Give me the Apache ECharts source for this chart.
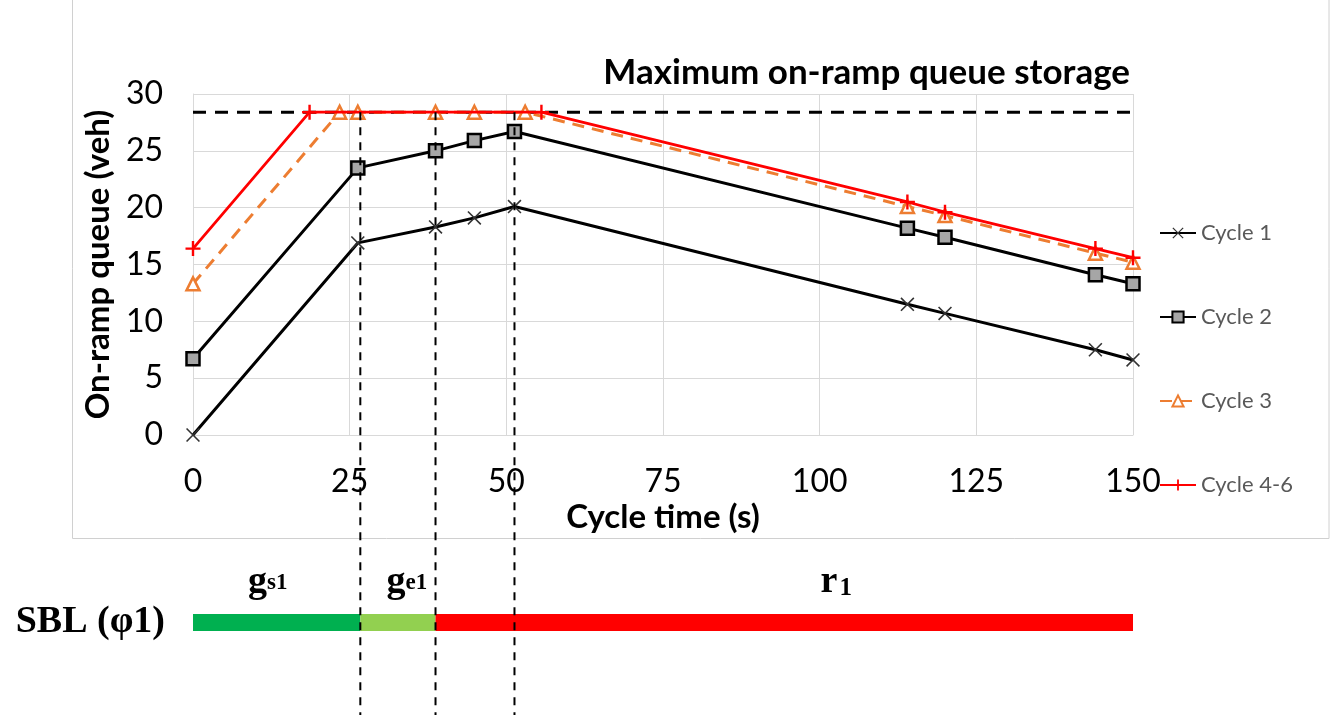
<!DOCTYPE html>
<html>
<head>
<meta charset="utf-8">
<script src="https://cdn.jsdelivr.net/npm/echarts@6/dist/echarts.min.js"></script>
<style>
  html, body { margin: 0; padding: 0; background: #fff; }
  #main { width: 1340px; height: 721px; }
</style>
</head>
<body>
<div id="main"></div>
<script>
// queue data
var cycleX = [0, 26.3, 38.7, 44.9, 51.3, 114, 120, 144, 150];
var cycle1 = [0, 16.9, 18.3, 19.1, 20.1, 11.5, 10.7, 7.5, 6.6];
var cycle2 = [6.7, 23.5, 25.0, 25.9, 26.7, 18.2, 17.4, 14.1, 13.3];
var cycle3X = [0, 23.4, 26.3, 38.7, 44.9, 53.0, 114, 120, 144, 150];
var cycle3 = [13.3, 28.4, 28.4, 28.4, 28.4, 28.4, 20.1, 19.3, 16.0, 15.2];
var cycle46X = [0, 18.6, 55.6, 114, 120, 144, 150];
var cycle46 = [16.4, 28.4, 28.4, 20.5, 19.6, 16.4, 15.6];
var maxStorage = 28.4;
var phaseMarks = [26.7, 38.7, 51.3];
var phaseDur = [26.7, 12.0, 111.3];
var phaseColors = ["#00b050", "#92d050", "#ff0000"];
var phaseLabels = ["{g|g}{s|s1}", "{g|g}{s|e1}", "{g|r}{r|1}"];

function pairs(xs, ys) {
  return xs.map(function(x, i) { return [x, ys[i]]; });
}

var font = "Lato";
var serif = "Liberation Serif";
var crossPath = "path://M0,0.8L0.8,0L10,9.2L9.2,10Z M9.2,0L10,0.8L0.8,10L0,9.2Z";
var plusPath = "path://M4.2,0H5.8V10H4.2Z M0,4.2H10V5.8H0Z";

var chart = echarts.init(document.getElementById("main"));

var series = [
  {
    name: "max",
    type: "line",
    data: [[0, maxStorage], [150, maxStorage]],
    showSymbol: false,
    lineStyle: { color: "#000", width: 3, type: [13, 9] },
    silent: true,
    z: 1
  },
  {
    name: "Cycle 1",
    type: "line",
    data: pairs(cycleX, cycle1),
    symbol: crossPath,
    symbolSize: 14,
    lineStyle: { color: "#000", width: 3 },
    itemStyle: { color: "#333" },
    z: 2
  },
  {
    name: "Cycle 2",
    type: "line",
    data: pairs(cycleX, cycle2),
    symbol: "rect",
    symbolSize: 13,
    lineStyle: { color: "#000", width: 3 },
    itemStyle: { color: "#a6a6a6", borderColor: "#000", borderWidth: 2.5 },
    z: 3
  },
  {
    name: "Cycle 3",
    type: "line",
    data: pairs(cycle3X, cycle3),
    symbol: "triangle",
    symbolSize: 13,
    lineStyle: { color: "#ed7d31", width: 3, type: [12, 8] },
    itemStyle: { color: "#fff", borderColor: "#ed7d31", borderWidth: 2.5 },
    z: 4
  },
  {
    name: "Cycle 4-6",
    type: "line",
    data: pairs(cycle46X, cycle46),
    symbol: plusPath,
    symbolSize: 15,
    lineStyle: { color: "#ff0000", width: 2.8 },
    itemStyle: { color: "#ff0000" },
    z: 5
  }
];

// signal phase bar (grid 1)
phaseDur.forEach(function(d, i) {
  series.push({
    name: "phase" + i,
    type: "bar",
    xAxisIndex: 1,
    yAxisIndex: 1,
    stack: "phase",
    data: [d],
    barWidth: 17,
    itemStyle: { color: phaseColors[i] },
    label: {
      show: true,
      position: "top",
      distance: 13,
      offset: [[-9, 0], [9, 0], [52, 0]][i],
      formatter: phaseLabels[i],
      rich: {
        g: { fontFamily: serif, fontWeight: "bold", fontSize: 38, color: "#000" },
        s: { fontFamily: serif, fontWeight: "bold", fontSize: 23, color: "#000", padding: [0, 0, -2, 0] },
        r: { fontFamily: serif, fontWeight: "bold", fontSize: 25, color: "#000", padding: [0, 0, -13, 2] }
      }
    },
    silent: true
  });
});

// dashed phase markers spanning chart and bar (grid 2)
phaseMarks.forEach(function(t, i) {
  series.push({
    name: "mark" + i,
    type: "line",
    xAxisIndex: 2,
    yAxisIndex: 2,
    data: [[t, maxStorage], [t, -24.6]],
    showSymbol: false,
    lineStyle: { color: "#000", width: 2, type: [8, 7] },
    silent: true,
    z: 10
  });
});

var option = {
  animation: false,
  backgroundColor: "#fff",
  title: {
    text: "Maximum on-ramp queue storage",
    right: 205,
    top: 50,
    textStyle: { fontFamily: font, fontWeight: "bold", fontSize: 35, color: "#000" }
  },
  graphic: [
    {
      type: "rect",
      shape: { x: 72.5, y: -5, width: 1256.5, height: 543.5 },
      style: { fill: "none", stroke: "#d0d0d0", lineWidth: 1 },
      z: -1
    }
  ],
  legend: {
    data: ["Cycle 1", "Cycle 2", "Cycle 3", "Cycle 4-6"],
    orient: "vertical",
    left: 1159,
    top: 222,
    padding: 0,
    itemWidth: 36,
    itemHeight: 14,
    itemGap: 62,
    textStyle: { fontFamily: font, fontSize: 22, color: "#595959", lineHeight: 22 }
  },
  grid: [
    { left: 193, right: 207, top: 94, bottom: 286 },
    { left: 193, right: 207, top: 610, height: 25 },
    { left: 193, right: 207, top: 94, bottom: 6 }
  ],
  xAxis: [
    {
      type: "value",
      gridIndex: 0,
      min: 0,
      max: 150,
      interval: 25,
      name: "Cycle time (s)",
      nameLocation: "middle",
      nameGap: 66,
      nameTextStyle: { fontFamily: font, fontWeight: "bold", fontSize: 33, color: "#000" },
      axisLine: { show: true, lineStyle: { color: "#d9d9d9", width: 1 } },
      axisTick: { show: false },
      axisLabel: { fontFamily: font, fontSize: 32, color: "#000", margin: 31 },
      splitLine: { show: true, lineStyle: { color: "#d9d9d9", width: 1 } }
    },
    { type: "value", gridIndex: 1, min: 0, max: 150, show: false },
    { type: "value", gridIndex: 2, min: 0, max: 150, show: false }
  ],
  yAxis: [
    {
      type: "value",
      gridIndex: 0,
      min: 0,
      max: 30,
      interval: 5,
      name: "On-ramp queue (veh)",
      nameLocation: "middle",
      nameGap: 78,
      nameTextStyle: { fontFamily: font, fontWeight: "bold", fontSize: 33, color: "#000" },
      axisLine: { show: true, lineStyle: { color: "#d9d9d9", width: 1 } },
      axisTick: { show: false },
      axisLabel: { fontFamily: font, fontSize: 32, color: "#000", margin: 30 },
      splitLine: { show: true, lineStyle: { color: "#d9d9d9", width: 1 } }
    },
    {
      type: "category",
      gridIndex: 1,
      data: ["SBL (φ1)"],
      axisLine: { show: false },
      axisTick: { show: false },
      axisLabel: { fontFamily: serif, fontWeight: "bold", fontSize: 38, color: "#000", margin: 28 }
    },
    { type: "value", gridIndex: 2, min: -24.6, max: 30, show: false }
  ],
  series: series
};

chart.setOption(option);
</script>
</body>
</html>
